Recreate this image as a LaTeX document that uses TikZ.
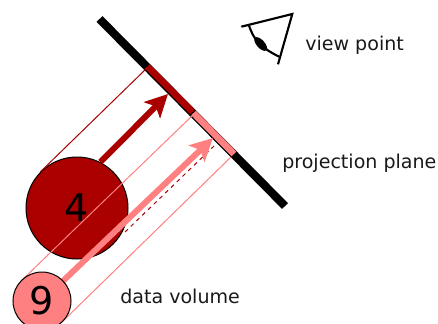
\documentclass[tikz,border=0pt]{standalone}
\usepackage{fontspec}
\setmainfont{DejaVu Sans}
\usepackage{tikz}
\usetikzlibrary{arrows.meta}
\definecolor{mainRed}{RGB}{170, 0, 0}
\definecolor{lightRed}{RGB}{255, 128, 128}
\tikzset{
    dataCircle/.style={circle, draw=black, line width=0.75pt, inner sep=0pt, font=\fontsize{28.6}{30}\selectfont},
    caption/.style={font=\fontsize{14.3}{16}\selectfont, text=black!90, inner sep=0pt},
    bigArrow/.style={line width=4.5pt, -{Stealth[length=17pt,width=17pt,inset=4pt]}},
}

\begin{document}
\begin{tikzpicture}[x=0.75pt, y=-0.75pt]
    \useasboundingbox (0,0) rectangle (438,324);

    % projection plane
    \coordinate (planeA) at (99.5,19);
    \coordinate (planeB) at (285,206);
    \draw[black, line width=6.2pt] (planeA) -- (planeB);
    \draw[mainRed, line width=5pt] (147.5,66.5) -- (192.5,112);
    \draw[lightRed, line width=5pt] (193.5,113) -- (234,154);

    % volume 4
    \coordinate (hitFour) at (147,68);
    \coordinate (tipFour) at (168,94);
    \node[dataCircle, fill=mainRed, minimum size=76.5pt] (four) at (77,208) {4};
    \draw[mainRed, line width=0.75pt] (four.135) -- (hitFour);
    \draw[mainRed, bigArrow] (four.63) -- (tipFour);
    \coordinate (dashStart) at (125,232);
    \coordinate (dashEnd) at (214,146);
    \draw[mainRed, line width=0.75pt, dashed, dash pattern=on 3pt off 3pt] (dashStart) -- (dashEnd);

    % volume 9
    \coordinate (hitNineA) at (192,116);
    \coordinate (hitNineB) at (231,157);
    \coordinate (tipNine) at (213,138);
    \coordinate (nineCentre) at (42,301);
    \draw[lightRed, line width=0.75pt] (nineCentre) ++(-135:29) -- (hitNineA);
    \draw[lightRed, line width=0.75pt] (nineCentre) ++(45:29) -- (hitNineB);
    \draw[lightRed, bigArrow] (nineCentre) -- (tipNine);
    \node[dataCircle, fill=lightRed, minimum size=43.5pt] (nine) at (nineCentre) {9};

    % eye
    \draw[black, line width=1.6pt] (241.3,26.7) -- (292.3,14) -- (278,64.3);
    \draw[black, line width=1.6pt] (249,25.7) .. controls (254,40) and (260,47) .. (279,56.7);
    \fill[black, rotate around={-48:(260.7,44)}] (260.7,44) ellipse (8.5 and 4);

    % labels
    \node[caption, anchor=base west] (viewLabel) at (305,51) {view point};
    \node[caption, anchor=base west] (planeLabel) at (282,168) {projection plane};
    \node[caption, anchor=base west] (dataLabel) at (120,303) {data volume};
\end{tikzpicture}
\end{document}
